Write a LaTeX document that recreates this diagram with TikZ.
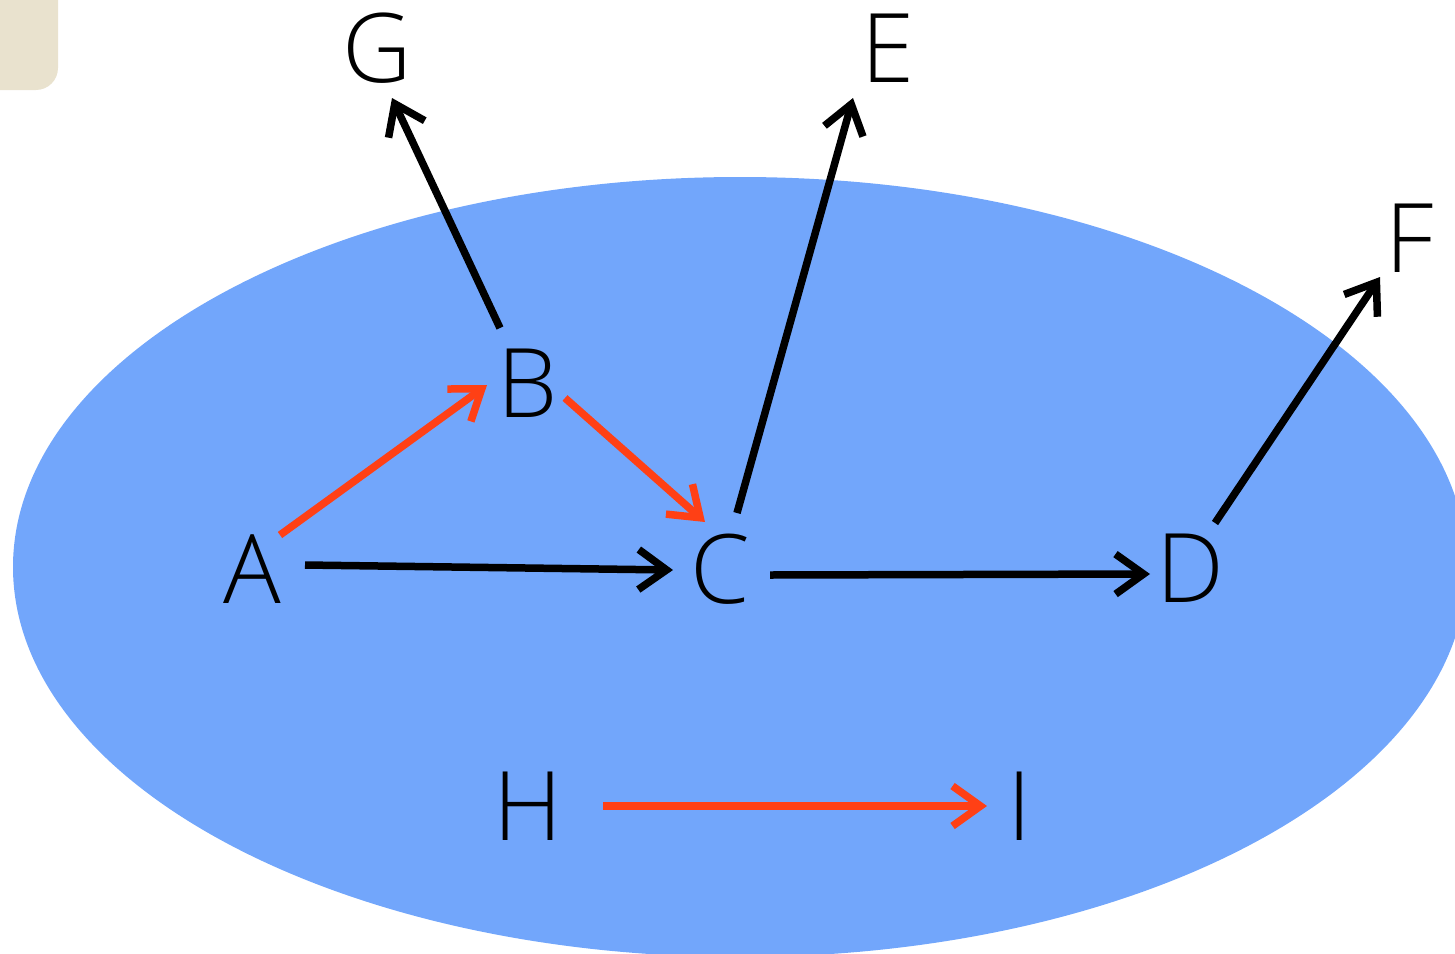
\documentclass[tikz,border=0pt]{standalone}
\usepackage{fontspec}
\setmainfont{Liberation Sans}
\newfontfamily\lblfont{Open Sans Light}
\usetikzlibrary{arrows.meta}
\definecolor{blob}{RGB}{114,166,251}
\definecolor{redarr}{RGB}{255,64,21}
\definecolor{beige}{RGB}{233,226,206}
\begin{document}
\begin{tikzpicture}[x=1pt,y=-1pt,
  lbl/.style={inner sep=0pt, text height=68pt, text depth=0pt, font=\lblfont\fontsize{96}{96}\selectfont},
  conn/.style={line width=7.5pt, -{Straight Barb[length=28pt,width=40pt]}},
  redconn/.style={conn, draw=redarr}]
\useasboundingbox (0,0) rectangle (1455,953);
\clip (0,0) rectangle (1455,953);
\fill[blob] (740,567) ellipse [x radius=727, y radius=390];
\fill[beige, rounded corners=22pt] (-40,-40) rectangle (58,90);
\node[lbl] (G) at (377,48) {G};
\node[lbl] (E) at (888,48) {E};
\node[lbl] (F) at (1410,238) {F};
\node[lbl] (B) at (528,383) {B};
\node[lbl] (A) at (252,569) {A};
\node[lbl] (C) at (720,569) {C};
\node[lbl] (D) at (1190,568) {D};
\node[lbl] (H) at (528,806) {H};
\node[lbl] (I) at (1020,806) {I};
\draw[conn] ([shift={(53,-4)}]A.center) -- ([shift={(-47,1)}]C.center);
\draw[conn] ([shift={(50,6)}]C.center) -- ([shift={(-40,6)}]D.center);
\draw[redconn] ([shift={(28,-34)}]A.center) -- ([shift={(-41,2)}]B.center);
\draw[redconn] ([shift={(37,15)}]B.center) -- ([shift={(-15,-47)}]C.center);
\draw[conn] ([shift={(-28,-55)}]B.center) -- ([shift={(15,50)}]G.center);
\draw[conn] ([shift={(17,-56)}]C.center) -- ([shift={(-35,50)}]E.center);
\draw[conn] ([shift={(25,-45)}]D.center) -- ([shift={(-30,39)}]F.center);
\draw[redconn] ([shift={(75,0)}]H.center) -- ([shift={(-33,0)}]I.center);
\end{tikzpicture}
\end{document}
